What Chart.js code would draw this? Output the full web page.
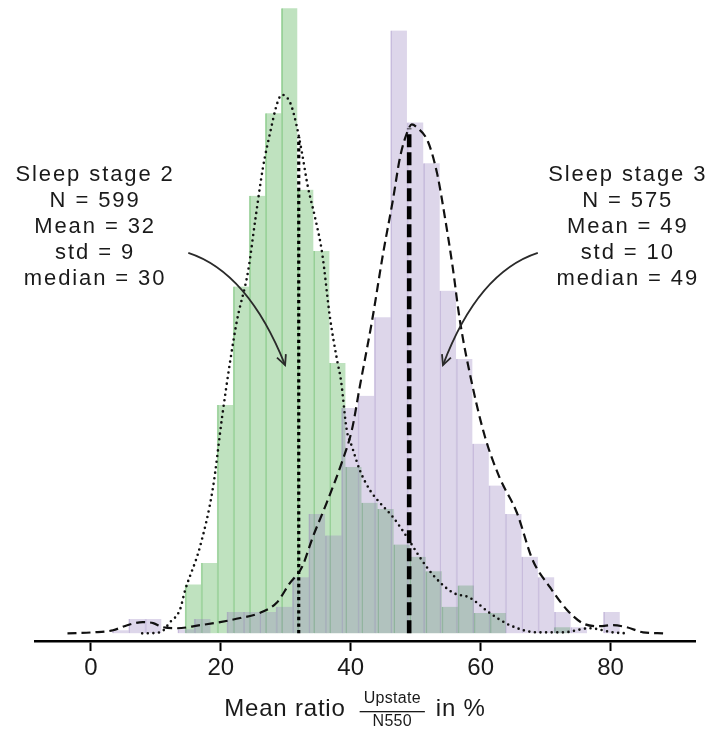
<!DOCTYPE html>
<html>
<head>
<meta charset="utf-8">
<script src="https://cdn.jsdelivr.net/npm/chart.js@4.4.1/dist/chart.umd.min.js"></script>
<style>
  html, body { margin: 0; padding: 0; background: #fff; }
</style>
</head>
<body>
<canvas id="hist" width="710" height="729"></canvas>
<script>
// histogram bins (normalised density), each stage has its own bin grid
const s2BinStart = 14.5, s2BinWidth = 2.47;
const s2Density = [0.0048, 0.0069, 0.0224, 0.0340, 0.0429, 0.0510, 0.0613, 0.0435, 0.0375, 0.0265,
  0.0163, 0.0128, 0.0122, 0.0087, 0.0075, 0.0061, 0.0026, 0.0047, 0.0020, 0.0020,
  0, 0, 0, 0.0006];
const s3BinStart = 3.3, s3BinWidth = 2.52;
const s3Density = [0.0003, 0.0014, 0.0014, 0, 0.0004, 0.0014, 0, 0.0021, 0.0021, 0.0021,
  0.0026, 0.0055, 0.0117, 0.0096, 0.0221, 0.0233, 0.0310, 0.0591, 0.0501, 0.0461,
  0.0336, 0.0269, 0.0186, 0.0145, 0.0117, 0.0075, 0.0055, 0.0021, 0.0006, 0, 0.0021];

// kernel density estimates
const s2KdeX = [7.9, 10.7, 12.2, 13.7, 14.5, 16.8, 18.8, 20.2, 21.4, 22.5, 24.2, 25.3, 26.5, 27.6,
  28.7, 29.4, 30.7, 31.7, 32.5, 33.4, 34.5, 35.6, 36.8, 37.9, 38.5, 39.4, 40.2, 41.4, 43.0,
  44.5, 46.5, 48.7, 50.6, 52.7, 55.7, 58.3, 61.4, 64.5, 68.7, 72.7, 76.8, 80.3, 82.5];
const s2KdeY = [0.0000, 0.0001, 0.0011, 0.0023, 0.0042, 0.0085, 0.0143, 0.0212, 0.0265, 0.0307,
  0.0355, 0.0405, 0.0457, 0.0491, 0.0520, 0.0528, 0.0520, 0.0497, 0.0471, 0.0438, 0.0408,
  0.0373, 0.0310, 0.0268, 0.0248, 0.0199, 0.0183, 0.0160, 0.0140, 0.0128, 0.0114, 0.0094,
  0.0075, 0.0057, 0.0040, 0.0035, 0.0020, 0.0008, 0.0001, 0.0001, 0.0005, 0.0001, 0.0000];
const s3KdeX = [-3.6, 0.4, 3.4, 5.6, 8.0, 9.6, 11.1, 13.3, 16.8, 19.9, 23.0, 26.0, 28.6, 30.6,
  32.5, 34.2, 36.3, 38.6, 40.2, 41.4, 43.3, 45.0, 46.5, 47.6, 48.8, 49.4, 50.2, 51.9, 53.3,
  54.5, 55.7, 56.8, 58.8, 60.7, 62.9, 65.6, 68.0, 70.7, 73.3, 75.7, 78.3, 80.3, 82.5, 85.0, 88.1];
const s3KdeY = [0.0000, 0.0001, 0.0003, 0.0008, 0.0011, 0.0010, 0.0006, 0.0005, 0.0008, 0.0011,
  0.0015, 0.0020, 0.0030, 0.0049, 0.0065, 0.0095, 0.0128, 0.0167, 0.0200, 0.0242, 0.0307,
  0.0373, 0.0425, 0.0467, 0.0493, 0.0499, 0.0496, 0.0482, 0.0451, 0.0408, 0.0359, 0.0307,
  0.0241, 0.0192, 0.0153, 0.0118, 0.0072, 0.0045, 0.0023, 0.0010, 0.0007, 0.0008, 0.0006,
  0.0001, 0.0000];

// summary statistics per stage
const stageNames = ['Sleep stage 2', 'Sleep stage 3'];
const stageN = [599, 575];
const stageMean = [32, 49];
const stageStd = [9, 10];
const stageMedian = [30, 49];
// kde height at the mean, where the mean marker stops
const meanKde = [0.0487, 0.0495];

const xTicks = [0, 20, 40, 60, 80];

const FONT = '"Liberation Sans", Arial, Helvetica, sans-serif';
const INK = '#1a1a1a';

const binPoints = (start, width, vals) =>
  vals.map((v, i) => ({ x: start + (i + 0.5) * width, y: v }));
const curvePoints = (xs, ys) => xs.map((x, i) => ({ x: x, y: ys[i] }));

// text boxes with curved arrows, placed in data coordinates
const notes = [
  { stage: 0, x: 0.65, y: 0.0444, from: [15.0, 0.0373], bend: [24.2, 0.0354], to: [29.9, 0.0263] },
  { stage: 1, x: 82.65, y: 0.0444, from: [68.8, 0.0373], bend: [59.6, 0.0354], to: [54.2, 0.0263] },
];

const notesPlugin = {
  id: 'notes',
  afterDatasetsDraw(chart) {
    const { ctx, scales } = chart;
    const px = (v) => scales.x.getPixelForValue(v);
    const py = (v) => scales.y.getPixelForValue(v);
    ctx.save();
    notes.forEach((n) => {
      const s = n.stage;
      const lines = [stageNames[s], 'N = ' + stageN[s], 'Mean = ' + stageMean[s],
        'std = ' + stageStd[s], 'median = ' + stageMedian[s]];
      ctx.font = '22px ' + FONT;
      ctx.letterSpacing = '1.9px';
      ctx.fillStyle = INK;
      ctx.textAlign = 'center';
      ctx.textBaseline = 'alphabetic';
      lines.forEach((t, i) => ctx.fillText(t, px(n.x), py(n.y) + i * 26));

      const x0 = px(n.from[0]), y0 = py(n.from[1]);
      const cx = px(n.bend[0]), cy = py(n.bend[1]);
      const x1 = px(n.to[0]), y1 = py(n.to[1]);
      ctx.strokeStyle = '#2a2a2a';
      ctx.lineWidth = 1.8;
      ctx.beginPath();
      ctx.moveTo(x0, y0);
      ctx.quadraticCurveTo(cx, cy, x1, y1);
      ctx.stroke();
      // open arrow head along the end tangent
      const a = Math.atan2(y1 - cy, x1 - cx);
      const len = 11, spread = 0.45;
      ctx.beginPath();
      ctx.moveTo(x1 - len * Math.cos(a - spread), y1 - len * Math.sin(a - spread));
      ctx.lineTo(x1, y1);
      ctx.lineTo(x1 - len * Math.cos(a + spread), y1 - len * Math.sin(a + spread));
      ctx.stroke();
    });
    ctx.restore();
  },
  afterDraw(chart) {
    // x axis title with a stacked fraction
    const { ctx } = chart;
    const base = 716;
    ctx.save();
    ctx.fillStyle = INK;
    ctx.textBaseline = 'alphabetic';
    ctx.textAlign = 'left';
    ctx.font = '24px ' + FONT;
    ctx.letterSpacing = '0.8px';
    const leftText = 'Mean ratio', rightText = 'in %';
    const wl = ctx.measureText(leftText).width;
    const wr = ctx.measureText(rightText).width;
    ctx.font = '16px ' + FONT;
    ctx.letterSpacing = '0.3px';
    const wu = ctx.measureText('Upstate').width;
    const wd = ctx.measureText('N550').width;
    const barW = Math.max(wu, wd) + 8;
    const gap1 = 14, gap2 = 11;
    const total = wl + gap1 + barW + gap2 + wr;
    let x = chart.width / 2 - total / 2;

    ctx.font = '24px ' + FONT;
    ctx.letterSpacing = '0.8px';
    ctx.fillText(leftText, x, base);
    x += wl + gap1;

    ctx.font = '16px ' + FONT;
    ctx.letterSpacing = '0.3px';
    ctx.textAlign = 'center';
    ctx.fillText('Upstate', x + barW / 2, base - 13);
    ctx.fillText('N550', x + barW / 2, base + 10);
    ctx.fillRect(x, base - 5, barW, 1.3);
    x += barW + gap2;

    ctx.textAlign = 'left';
    ctx.font = '24px ' + FONT;
    ctx.letterSpacing = '0.8px';
    ctx.fillText(rightText, x, base);
    ctx.restore();
  },
};

new Chart(document.getElementById('hist'), {
  type: 'bar',
  data: {
    datasets: [
      {
        label: stageNames[0],
        data: binPoints(s2BinStart, s2BinWidth, s2Density),
        xAxisID: 'x',
        backgroundColor: 'rgba(44, 160, 44, 0.3)',
        borderColor: 'rgba(44, 160, 44, 0.4)',
        borderWidth: { left: 1, right: 0, top: 0, bottom: 0 },
        borderSkipped: false,
        barPercentage: 1,
        categoryPercentage: 1,
        grouped: false,
        order: 3,
      },
      {
        label: stageNames[1],
        data: binPoints(s3BinStart, s3BinWidth, s3Density),
        xAxisID: 'x2',
        backgroundColor: 'rgba(142, 118, 185, 0.3)',
        borderColor: 'rgba(142, 118, 185, 0.38)',
        borderWidth: { left: 1, right: 0, top: 0, bottom: 0 },
        borderSkipped: false,
        barPercentage: 1,
        categoryPercentage: 1,
        grouped: false,
        order: 2,
      },
      {
        type: 'line',
        label: stageNames[0] + ' kde',
        data: curvePoints(s2KdeX, s2KdeY),
        xAxisID: 'x',
        borderColor: '#111',
        borderWidth: 2.6,
        borderDash: [0, 5.6],
        borderCapStyle: 'round',
        cubicInterpolationMode: 'monotone',
        pointRadius: 0,
        fill: false,
        order: 1,
      },
      {
        type: 'line',
        label: stageNames[1] + ' kde',
        data: curvePoints(s3KdeX, s3KdeY),
        xAxisID: 'x',
        borderColor: '#111',
        borderWidth: 2.2,
        borderDash: [9, 5],
        cubicInterpolationMode: 'monotone',
        pointRadius: 0,
        fill: false,
        order: 1,
      },
      {
        type: 'line',
        label: stageNames[0] + ' mean',
        data: [{ x: stageMean[0], y: 0 }, { x: stageMean[0], y: meanKde[0] }],
        xAxisID: 'x',
        borderColor: '#000',
        borderWidth: 3.2,
        borderDash: [3.3, 3.3],
        pointRadius: 0,
        tension: 0,
        fill: false,
        order: 0,
      },
      {
        type: 'line',
        label: stageNames[1] + ' mean',
        data: [{ x: stageMean[1], y: 0 }, { x: stageMean[1], y: meanKde[1] }],
        xAxisID: 'x',
        borderColor: '#000',
        borderWidth: 4.6,
        borderDash: [13, 5],
        pointRadius: 0,
        tension: 0,
        fill: false,
        order: 0,
      },
    ],
  },
  options: {
    responsive: false,
    devicePixelRatio: 1,
    animation: false,
    layout: { padding: { left: 35, right: 15, top: 0, bottom: 0 } },
    plugins: { legend: { display: false }, tooltip: { enabled: false } },
    scales: {
      x: {
        type: 'linear',
        position: 'bottom',
        min: -8.6,
        max: 93,
        offset: false,
        afterBuildTicks: (scale) => { scale.ticks = xTicks.map((v) => ({ value: v })); },
        afterFit: (scale) => { scale.height = 88; },
        border: { display: true, color: '#000', width: 2.6 },
        grid: {
          offset: false,
          drawOnChartArea: false,
          drawTicks: true,
          tickLength: 10,
          tickWidth: 2,
          tickColor: '#000',
        },
        ticks: {
          color: INK,
          padding: 3,
          maxRotation: 0,
          font: { family: FONT, size: 24 },
        },
      },
      x2: {
        type: 'linear',
        display: false,
        min: -8.6,
        max: 93,
        offset: false,
      },
      y: {
        display: false,
        min: -0.00075,
        max: 0.0621,
      },
    },
  },
  plugins: [notesPlugin],
});
</script>
</body>
</html>
